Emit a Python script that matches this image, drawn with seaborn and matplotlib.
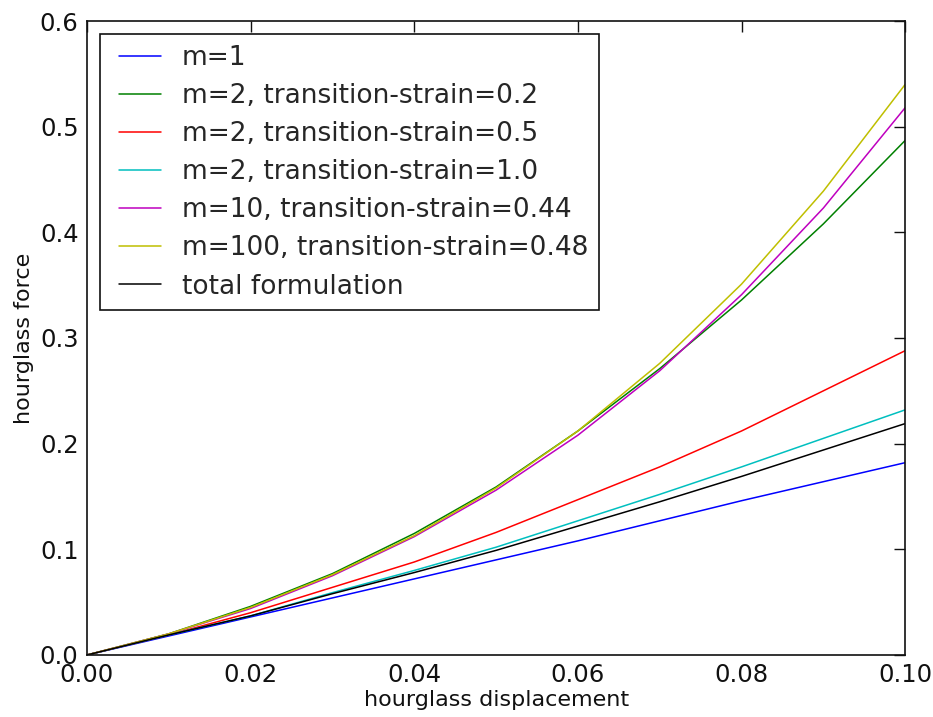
import seaborn as sns
import pandas as pd
import matplotlib.pyplot as plt
from matplotlib.lines import Line2D
from matplotlib.legend_handler import HandlerLine2D

# hourglass displacement
disp = [0.0, 0.01, 0.02, 0.03, 0.04, 0.05, 0.06, 0.07, 0.08, 0.09, 0.10]

m1 = [0.0, 0.018, 0.036, 0.054, 0.072, 0.090, 0.108, 0.127, 0.146, 0.164, 0.182]
m2_02 = [0.0, 0.020, 0.046, 0.077, 0.115, 0.159, 0.212, 0.271, 0.336, 0.408, 0.487]
m2_05 = [0.0, 0.019, 0.040, 0.064, 0.088, 0.116, 0.147, 0.178, 0.212, 0.250, 0.288]
m2_10 = [0.0, 0.019, 0.037, 0.059, 0.080, 0.102, 0.127, 0.152, 0.178, 0.205, 0.232]
m10_044 = [0.0, 0.020, 0.044, 0.075, 0.112, 0.156, 0.208, 0.269, 0.341, 0.423, 0.518]
m100_048 = [0.0, 0.020, 0.045, 0.076, 0.113, 0.158, 0.212, 0.276, 0.351, 0.439, 0.540]
total = [0.0, 0.019, 0.037, 0.058, 0.078, 0.099, 0.122, 0.145, 0.169, 0.194, 0.219]

labels = ['m=1',
          'm=2, transition-strain=0.2',
          'm=2, transition-strain=0.5',
          'm=2, transition-strain=1.0',
          'm=10, transition-strain=0.44',
          'm=100, transition-strain=0.48',
          'total formulation']
series = [m1, m2_02, m2_05, m2_10, m10_044, m100_048, total]
colors = ['#0000ff', '#008000', '#ff0000', '#00bfbf', '#bf00bf', '#bfbf00', '#000000']

df = pd.concat([pd.DataFrame({'disp': disp, 'force': s, 'case': lab})
                for s, lab in zip(series, labels)], ignore_index = True)

sns.set_style('white')
plt.rcParams['font.family'] = ['DejaVu Sans']

fig = plt.figure(figsize = (9.33, 7.17), dpi = 100)
ax = fig.add_axes([0.0932, 0.0865, 0.877, 0.8842])

sns.lineplot(data = df, x = 'disp', y = 'force', hue = 'case',
             palette = colors, hue_order = labels, linewidth = 1.1,
             estimator = None, sort = False, ax = ax)

ax.set_xlim(0, 0.1)
ax.set_ylim(0, 0.6)
ax.set_xticks([0.0, 0.02, 0.04, 0.06, 0.08, 0.10])
ax.set_xticklabels(['0.00', '0.02', '0.04', '0.06', '0.08', '0.10'])
ax.set_yticks([0.0, 0.1, 0.2, 0.3, 0.4, 0.5, 0.6])
ax.set_yticklabels(['0.0', '0.1', '0.2', '0.3', '0.4', '0.5', '0.6'])
ax.tick_params(direction = 'in', length = 8, width = 1, labelsize = 17.5,
               top = True, right = True, colors = '#111111', pad = 6)
for sp in ax.spines.values():
    sp.set_color('#111111')
    sp.set_linewidth(1.2)

ax.set_xlabel('hourglass displacement', fontsize = 16, color = '#111111', labelpad = 2)
ax.set_ylabel('hourglass force', fontsize = 16, color = '#111111')

leg = ax.legend(loc = 'upper left', fontsize = 19, frameon = True, fancybox = False,
                framealpha = 1, edgecolor = '#111111', handlelength = 1.9,
                handletextpad = 0.8, labelspacing = 0.46, borderaxespad = 0.5,
                borderpad = 0.4, handler_map = {Line2D: HandlerLine2D(xpad = 0.31)})
leg.get_frame().set_linewidth(1.2)

plt.savefig('out.png', dpi = 100)
